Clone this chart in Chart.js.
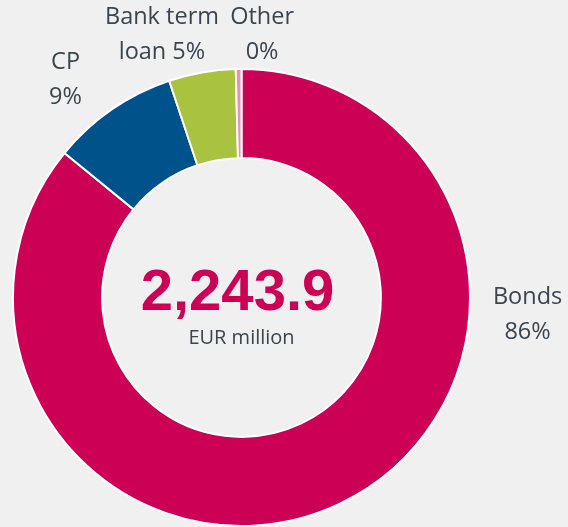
<!DOCTYPE html>
<html>
<head>
<meta charset="utf-8">
<script src="https://cdn.jsdelivr.net/npm/chart.js@4/dist/chart.umd.min.js"></script>
<style>
  html, body { margin: 0; padding: 0; background: #f0f0f0; }
  #wrap { width: 568px; height: 527px; position: relative; }
</style>
</head>
<body>
<div id="wrap"><canvas id="c" width="568" height="527"></canvas></div>
<script>
// ---- data ----
const categories = ["Bonds", "CP", "Bank term loan", "Other"];
const values = [1927.4, 201.5, 106.0, 9.0];      // EUR million
const colors = ["#cc0055", "#00538a", "#a9c340", "#ec8fb6"];
const unitLabel = "EUR million";
// label lines (first line text per category; the percentage is appended)
const labelLines = [["Bonds"], ["CP"], ["Bank term", "loan"], ["Other"]];
// label centres, relative to the doughnut centre, in units of the outer radius
const labelOffsets = [[1.252, 0.077], [-0.770, -0.952], [-0.348, -1.149], [0.090, -1.149]];

const total = values.reduce((a, b) => a + b, 0);
const pct = values.map(v => Math.round(v / total * 100) + "%");

const labelPlugin = {
  id: "labels",
  afterDraw(chart) {
    const ctx = chart.ctx;
    const arc = chart.getDatasetMeta(0).data[0];
    const cx = arc.x, cy = arc.y, r = arc.outerRadius;
    ctx.save();
    ctx.textAlign = "center";
    ctx.textBaseline = "middle";
    ctx.fillStyle = "#3a4550";
    ctx.font = "23.5px 'Open Sans'";
    const lh = 35;
    categories.forEach((c, i) => {
      const lines = labelLines[i].slice();
      if (lines.length === 2) lines[1] = lines[1] + " " + pct[i];
      else lines.push(pct[i]);
      const x = cx + labelOffsets[i][0] * r;
      const y = cy + labelOffsets[i][1] * r;
      lines.forEach((t, k) => {
        ctx.fillText(t, x, y + (k - (lines.length - 1) / 2) * lh);
      });
    });
    // centre total
    ctx.fillStyle = "#cc0055";
    ctx.font = "bold 58px 'Liberation Sans'";
    ctx.fillText(total.toLocaleString("en-US", {minimumFractionDigits: 1, maximumFractionDigits: 1}), cx - 4, cy - 4);
    ctx.fillStyle = "#3a4550";
    ctx.font = "20px 'Open Sans'";
    ctx.fillText(unitLabel, cx, cy + 41);
    ctx.restore();
  }
};

new Chart(document.getElementById("c"), {
  type: "doughnut",
  data: {
    labels: categories,
    datasets: [{
      data: values,
      backgroundColor: colors,
      borderColor: "#ffffff",
      borderWidth: 2,
      hoverOffset: 0
    }]
  },
  options: {
    responsive: false,
    animation: false,
    cutout: "61%",
    rotation: 0,
    layout: { padding: { left: 12, right: 97, top: 68, bottom: 0 } },
    plugins: { legend: { display: false }, tooltip: { enabled: false } }
  },
  plugins: [labelPlugin]
});
</script>
</body>
</html>
